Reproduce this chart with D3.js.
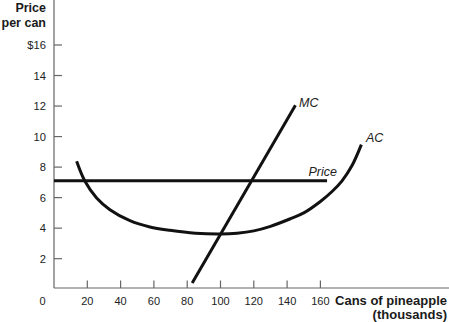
<!DOCTYPE html>
<html>
<head>
<meta charset="utf-8">
<script src="https://cdn.jsdelivr.net/npm/d3@7"></script>
<style>
  html, body { margin: 0; padding: 0; background: #fff; }
  svg { display: block; font-family: "Liberation Sans", Arial, Helvetica, sans-serif; }
</style>
</head>
<body>
<svg id="chart" width="449" height="322"></svg>
<script>
// Quantity axis (thousands of cans) and price axis (dollars per can)
const xTicks = [20, 40, 60, 80, 100, 120, 140, 160];
const yTicks = [2, 4, 6, 8, 10, 12, 14, 16];
const yTickLabels = ["2", "4", "6", "8", "10", "12", "14", "$16"];

// Average cost curve (quantity, cost)
const acQty  = [13.6, 18.6, 25.6, 33.6, 45.6, 57.6, 69.6, 85, 100, 110, 120, 130, 141.6, 150, 160, 167, 173, 179, 184.6];
const acCost = [8.38, 7.07, 5.98, 5.21, 4.49, 4.08, 3.86, 3.67, 3.62, 3.67, 3.82, 4.12, 4.6, 5.0, 5.75, 6.4, 7.1, 8.1, 9.47];

// Marginal cost line (quantity, cost)
const mcQty  = [83, 145];
const mcCost = [0.4, 12.05];

// Market price line
const priceQty = [0, 164];
const priceLevel = 7.1;

const svg = d3.select("#chart");
const x = d3.scaleLinear().domain([0, 20]).range([54, 87.3]);
const y = d3.scaleLinear().domain([0, 16]).range([289.2, 45]);

const axisColor = "#666";
const textColor = "#222";

// Axes lines
svg.append("line").attr("x1", 54).attr("x2", 54).attr("y1", 0).attr("y2", 288)
  .attr("stroke", axisColor).attr("stroke-width", 1.2);
svg.append("line").attr("x1", 54).attr("x2", 449).attr("y1", 288).attr("y2", 288)
  .attr("stroke", axisColor).attr("stroke-width", 1.2);

// Y ticks and labels
const yg = svg.append("g");
yTicks.forEach((t, i) => {
  yg.append("line").attr("x1", 54).attr("x2", 62).attr("y1", y(t)).attr("y2", y(t))
    .attr("stroke", axisColor).attr("stroke-width", 1.2);
  yg.append("text").attr("x", 46).attr("y", y(t)).attr("dy", "0.36em")
    .attr("text-anchor", "end").attr("font-size", 11.2).attr("fill", textColor)
    .text(yTickLabels[i]);
});

// X ticks and labels
const xg = svg.append("g");
xTicks.forEach(t => {
  xg.append("line").attr("x1", x(t)).attr("x2", x(t)).attr("y1", 288).attr("y2", 280.5)
    .attr("stroke", axisColor).attr("stroke-width", 1.2);
  xg.append("text").attr("x", x(t)).attr("y", 301.5).attr("dy", "0.36em")
    .attr("text-anchor", "middle").attr("font-size", 11).attr("fill", textColor)
    .text(t);
});
svg.append("text").attr("x", 42.5).attr("y", 301.5).attr("dy", "0.36em")
  .attr("text-anchor", "middle").attr("font-size", 11).attr("fill", textColor).text("0");

// Axis titles
const title = (tx, ty, size, s) => svg.append("text").attr("x", tx).attr("y", ty)
  .attr("dy", "0.36em").attr("text-anchor", "end").attr("font-size", size)
  .attr("font-weight", "bold").attr("fill", "#1a1a1a").text(s);
title(46, 7.5, 12.5, "Price");
title(46, 22.5, 12.5, "per can");
title(447, 300.5, 13, "Cans of pineapple");
title(447, 314, 13, "(thousands)");

// Curves
const line = d3.line().x(d => x(d[0])).y(d => y(d[1]));
const acPts = acQty.map((q, i) => [q, acCost[i]]);
svg.append("path").datum(acPts)
  .attr("d", d3.line().x(d => x(d[0])).y(d => y(d[1])).curve(d3.curveCatmullRom.alpha(0.5)))
  .attr("fill", "none").attr("stroke", "#111").attr("stroke-width", 3);

svg.append("path").datum(priceQty.map(q => [q, priceLevel]))
  .attr("d", line)
  .attr("fill", "none").attr("stroke", "#111").attr("stroke-width", 3);

svg.append("path").datum(mcQty.map((q, i) => [q, mcCost[i]]))
  .attr("d", line)
  .attr("fill", "none").attr("stroke", "#111").attr("stroke-width", 3);

// Curve labels
const lbl = (tx, ty, s) => svg.append("text").attr("x", tx).attr("y", ty).attr("dy", "0.36em")
  .attr("font-size", 12.5).attr("font-style", "italic").attr("fill", "#222").text(s);
lbl(299, 102, "MC");
lbl(366, 137, "AC");
lbl(308.5, 171, "Price");
</script>
</body>
</html>
